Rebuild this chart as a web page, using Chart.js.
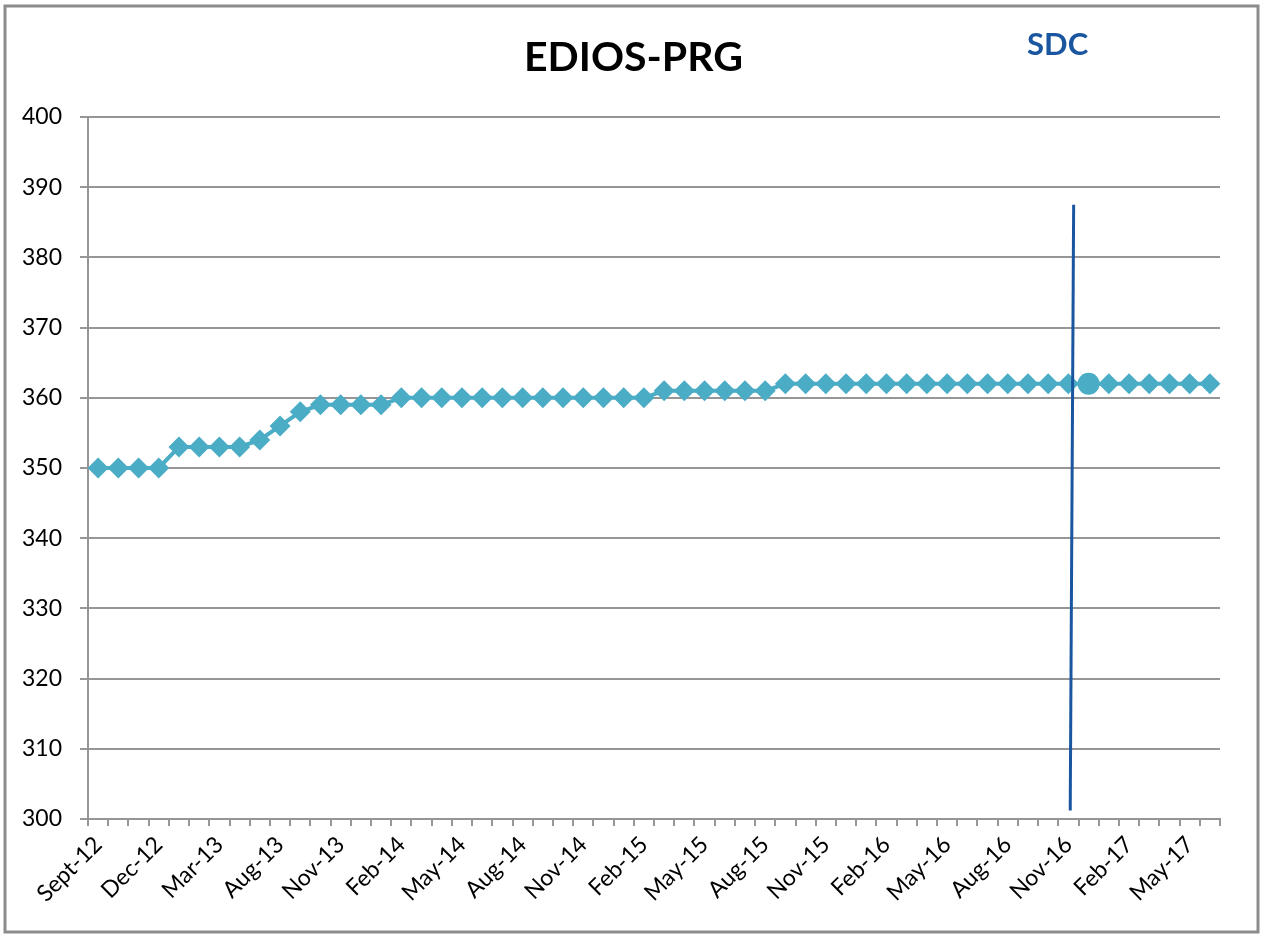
<!DOCTYPE html>
<html>
<head>
<meta charset="utf-8">
<title>EDIOS-PRG</title>
<script src="https://cdn.jsdelivr.net/npm/chart.js@4/dist/chart.umd.min.js"></script>
<style>
  html, body { margin: 0; padding: 0; background: #fff; }
  #wrap { width: 1261px; height: 934px; }
</style>
</head>
<body>
<div id="wrap"><canvas id="chart" width="1261" height="934"></canvas></div>
<script>
// categories (months, one tick label every 3rd)
const categories = [
  'Sept-12', 'Oct-12', 'Nov-12', 'Dec-12', 'Jan-13', 'Feb-13', 'Mar-13', 'Apr-13', 'Jun-13',
  'Aug-13', 'Sep-13', 'Oct-13', 'Nov-13', 'Dec-13', 'Jan-14', 'Feb-14', 'Mar-14', 'Apr-14',
  'May-14', 'Jun-14', 'Jul-14', 'Aug-14', 'Sep-14', 'Oct-14', 'Nov-14', 'Dec-14', 'Jan-15',
  'Feb-15', 'Mar-15', 'Apr-15', 'May-15', 'Jun-15', 'Jul-15', 'Aug-15', 'Sep-15', 'Oct-15',
  'Nov-15', 'Dec-15', 'Jan-16', 'Feb-16', 'Mar-16', 'Apr-16', 'May-16', 'Jun-16', 'Jul-16',
  'Aug-16', 'Sep-16', 'Oct-16', 'Nov-16', 'Dec-16', 'Jan-17', 'Feb-17', 'Mar-17', 'Apr-17',
  'May-17', 'Jun-17'
];
const values = [
  350, 350, 350, 350, 353, 353, 353, 353, 354,
  356, 358, 359, 359, 359, 359, 360, 360, 360,
  360, 360, 360, 360, 360, 360, 360, 360, 360,
  360, 361, 361, 361, 361, 361, 361, 362, 362,
  362, 362, 362, 362, 362, 362, 362, 362, 362,
  362, 362, 362, 362, 362, 362, 362, 362, 362,
  362, 362
];
const yTicks = [300, 310, 320, 330, 340, 350, 360, 370, 380, 390, 400];
const chartTitle = 'EDIOS-PRG';
const sdcLabel = 'SDC';
const sdcCategory = 'Dec-16';          // point shown as a circle
const sdcLine = { top: [48.26, 387.5], bottom: [48.09, 301.2] }; // [category index, value]

const FONT = 'Lato, "Open Sans", sans-serif';
const LINE = '#4BACC6';
const SDC_BLUE = '#1A56A0';
const GRID = '#969696';

const frame = {
  id: 'frame',
  beforeDraw(chart) {
    const c = chart.ctx;
    c.save();
    c.fillStyle = '#fff';
    c.fillRect(0, 0, chart.width, chart.height);
    c.strokeStyle = '#8c8c8c';
    c.lineWidth = 3;
    c.strokeRect(5, 6, chart.width - 8, chart.height - 8);
    // title, centred on the whole canvas
    c.fillStyle = '#000';
    c.font = 'bold 41px ' + FONT;
    c.textAlign = 'center';
    c.textBaseline = 'middle';
    c.fillText(chartTitle, chart.width / 2 + 3, 58);
    c.restore();
  }
};

const sdc = {
  id: 'sdc',
  afterDatasetsDraw(chart) {
    const x = chart.scales.x, y = chart.scales.y, c = chart.ctx;
    const x1 = x.getPixelForValue(sdcLine.top[0]), y1 = y.getPixelForValue(sdcLine.top[1]);
    const x2 = x.getPixelForValue(sdcLine.bottom[0]), y2 = y.getPixelForValue(sdcLine.bottom[1]);
    c.save();
    c.strokeStyle = SDC_BLUE;
    c.lineWidth = 3;
    c.beginPath();
    c.moveTo(x1, y1);
    c.lineTo(x2, y2);
    c.stroke();
    c.fillStyle = SDC_BLUE;
    c.font = 'bold 31px ' + FONT;
    c.textAlign = 'center';
    c.textBaseline = 'middle';
    c.fillText(sdcLabel, x1 - 16, chart.chartArea.top - 72);
    c.restore();
  }
};

new Chart(document.getElementById('chart'), {
  type: 'line',
  data: {
    labels: categories,
    datasets: [{
      label: chartTitle,
      data: values,
      borderColor: LINE,
      backgroundColor: LINE,
      borderWidth: 4,
      tension: 0,
      pointStyle: categories.map(c => c === sdcCategory ? 'circle' : 'rectRot'),
      pointRadius: categories.map(c => c === sdcCategory ? 11 : 10.5),
      pointBorderWidth: 0,
      pointBackgroundColor: LINE
    }]
  },
  options: {
    responsive: false,
    animation: false,
    layout: { padding: { left: 0, right: 41, top: 117, bottom: 10 } },
    plugins: {
      legend: { display: false },
      tooltip: { enabled: false },
      title: { display: false }
    },
    scales: {
      x: {
        offset: true,
        grid: { offset: true, drawOnChartArea: false, drawTicks: true, tickLength: 7, color: GRID, lineWidth: 2 },
        border: { color: GRID, width: 2 },
        ticks: {
          autoSkip: false,
          maxRotation: 45,
          minRotation: 45,
          padding: 5,
          color: '#000',
          font: { family: FONT, size: 23 },
          callback: (v, i) => i % 3 === 0 ? categories[i] : ''
        },
        afterFit: s => { s.height = 105; }
      },
      y: {
        min: 300,
        max: 400,
        afterBuildTicks: s => { s.ticks = yTicks.map(v => ({ value: v })); },
        grid: { color: GRID, lineWidth: 2, tickLength: 8 },
        border: { color: GRID, width: 2 },
        ticks: { color: '#000', padding: 18, font: { family: FONT, size: 23 } },
        afterFit: s => { s.width = 88; }
      }
    }
  },
  plugins: [frame, sdc]
});
</script>
</body>
</html>
